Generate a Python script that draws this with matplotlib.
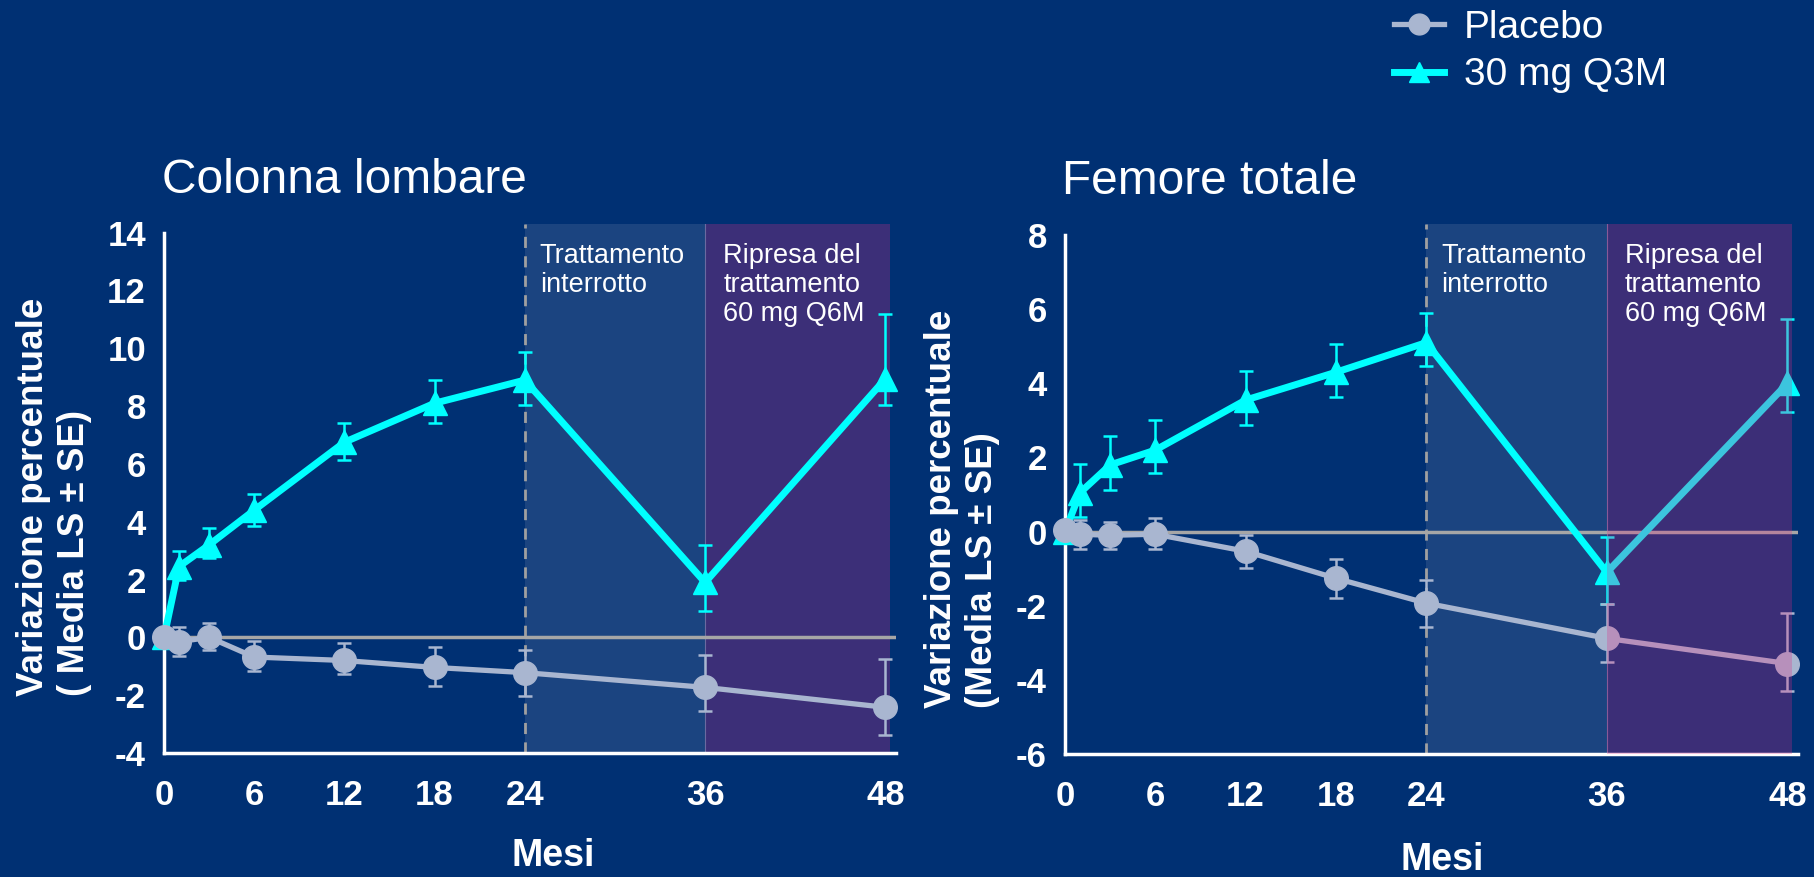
import matplotlib
matplotlib.use("Agg")
import matplotlib.pyplot as plt
from matplotlib.lines import Line2D
from matplotlib.patches import Rectangle

plt.rcParams["font.family"] = ["Liberation Sans", "DejaVu Sans"]
plt.rcParams["axes.unicode_minus"] = False

# dati
mesi = [0, 1, 3, 6, 12, 18, 24, 36, 48]
xTicks = [0, 6, 12, 18, 24, 36, 48]

# Colonna lombare
lombPlacebo = [0.0, -0.15, 0.0, -0.68, -0.8, -1.04, -1.22, -1.73, -2.42]
lombPlaceboLo = [0.0, 0.48, 0.45, 0.48, 0.48, 0.63, 0.81, 0.81, 0.95]
lombPlaceboHi = [0.0, 0.51, 0.50, 0.56, 0.60, 0.72, 0.80, 1.13, 1.67]
lombQ3M = [0.0, 2.45, 3.2, 4.4, 6.75, 8.1, 8.9, 1.9, 8.95]
lombQ3MLo = [0.0, 0.48, 0.46, 0.53, 0.61, 0.69, 0.85, 0.98, 0.90]
lombQ3MHi = [0.0, 0.53, 0.58, 0.57, 0.68, 0.80, 0.96, 1.28, 2.25]

# Femore totale
femPlacebo = [0.05, -0.07, -0.1, -0.07, -0.53, -1.26, -1.93, -2.88, -3.56]
femPlaceboLo = [0.0, 0.40, 0.38, 0.40, 0.44, 0.53, 0.64, 0.63, 0.73]
femPlaceboHi = [0.0, 0.39, 0.37, 0.43, 0.44, 0.53, 0.63, 0.92, 1.37]
femQ3M = [0.0, 1.05, 1.8, 2.2, 3.55, 4.3, 5.1, -1.1, 4.0]
femQ3MLo = [0.0, 0.65, 0.67, 0.63, 0.66, 0.66, 0.63, 0.84, 0.76]
femQ3MHi = [0.0, 0.77, 0.78, 0.81, 0.78, 0.75, 0.80, 0.95, 1.73]

BG = "#003073"
CYAN = "#00ffff"
PLAC = "#a9b6d0"
BLU = "#1b4480"
VIOLA = "#3c2f78"
W, H = 1814, 877

fig = plt.figure(figsize=(W / 100, H / 100), dpi=100, facecolor=BG)


def pannello(rect, ylim, yticks, plac, placLo, placHi, q3m, q3mLo, q3mHi, overlay):
    ax = fig.add_axes(rect)
    ax.set_facecolor(BG)
    ax.set_xlim(0, 48.7)
    ax.set_ylim(ylim[0], ylim[1] + 0.3 * (yticks[1] - yticks[0]) / 2)
    top = ax.get_ylim()[1]

    # zone
    ax.axvspan(24, 36, ymax=1, color=BLU, zorder=0, lw=0)
    if overlay:
        # in questo pannello la zona viola sta sopra le curve
        ax.add_patch(Rectangle((36, ylim[0]), 12.3, top - ylim[0], facecolor=(222 / 255, 44 / 255, 133 / 255),
                               alpha=0.27, lw=0, zorder=20, clip_on=False))
    else:
        ax.axvspan(36, 48.3, color=VIOLA, zorder=0, lw=0)
    ax.axvline(36, color="#6a6aa0", lw=0.8, zorder=0.5)
    ax.axvline(24, color="#a0a0a0", lw=2, ls=(0, (4, 3)), zorder=1)
    ax.axhline(0, color="#a6a6a6", lw=2.5, zorder=1)

    ax.errorbar(mesi, q3m, yerr=[q3mLo, q3mHi], color=CYAN, lw=5, marker="^", ms=17,
                elinewidth=1.8, capsize=5, capthick=1.8, zorder=3, clip_on=False)
    ax.errorbar(mesi, plac, yerr=[placLo, placHi], color=PLAC, lw=3.8, marker="o", ms=17,
                elinewidth=1.8, capsize=5, capthick=1.8, zorder=4, clip_on=False)

    for s in ["top", "right"]:
        ax.spines[s].set_visible(False)
    for s in ["left", "bottom"]:
        ax.spines[s].set_color("white")
        ax.spines[s].set_linewidth(2.5)
    ax.spines["left"].set_bounds(ylim[0], ylim[1])
    ax.set_yticks(yticks)
    ax.set_xticks(xTicks)
    ax.tick_params(length=0, colors="white", labelsize=25)
    ax.tick_params(axis="y", pad=13)
    ax.tick_params(axis="x", pad=19)
    for lab in ax.get_xticklabels() + ax.get_yticklabels():
        lab.set_fontweight("bold")
    return ax


axL = pannello([164 / W, 1 - 753 / H, 732 / W, 529 / H], (-4, 14), list(range(-4, 15, 2)),
               lombPlacebo, lombPlaceboLo, lombPlaceboHi, lombQ3M, lombQ3MLo, lombQ3MHi, False)
axR = pannello([1065 / W, 1 - 754 / H, 733 / W, 530 / H], (-6, 8), list(range(-6, 9, 2)),
               femPlacebo, femPlaceboLo, femPlaceboHi, femQ3M, femQ3MLo, femQ3MHi, True)

for ax in (axL, axR):
    ax.text(25.0, 0.965, "Trattamento\ninterrotto", transform=ax.get_xaxis_transform(),
            color="white", fontsize=19.5, va="top", ha="left", linespacing=1.15, zorder=30)
    ax.text(37.2, 0.965, "Ripresa del\ntrattamento\n60 mg Q6M", transform=ax.get_xaxis_transform(),
            color="white", fontsize=19.5, va="top", ha="left", linespacing=1.15, zorder=30)

# titoli
fig.text(162 / W, 1 - 193 / H, "Colonna lombare", color="white", fontsize=34.5, va="baseline")
fig.text(1062 / W, 1 - 194 / H, "Femore totale", color="white", fontsize=34.5, va="baseline")

# etichette assi
fig.text(54 / W, 1 - 696 / H, "Variazione percentuale\n( Media LS ± SE)", color="white",
         fontsize=26.5, fontweight="bold", rotation=90, ha="center", va="bottom",
         multialignment="left", linespacing=1.25)
fig.text(962 / W, 1 - 708 / H, "Variazione percentuale\n(Media LS ± SE)", color="white",
         fontsize=26.5, fontweight="bold", rotation=90, ha="center", va="bottom",
         multialignment="left", linespacing=1.25)
fig.text(553 / W, 1 - 856 / H, "Mesi", color="white", fontsize=27, fontweight="bold",
         ha="center", va="center")
fig.text(1442 / W, 1 - 860 / H, "Mesi", color="white", fontsize=27, fontweight="bold",
         ha="center", va="center")

# legenda
handles = [
    Line2D([], [], color=PLAC, lw=3.8, marker="o", ms=15),
    Line2D([], [], color=CYAN, lw=5, marker="^", ms=15),
]
leg = fig.legend(handles, ["Placebo", "30 mg Q3M"], loc="upper left",
                 bbox_to_anchor=(1378 / W, 1 + 6 / H), frameon=False, fontsize=28,
                 handlelength=1.3, handletextpad=0.5, labelspacing=0.3, borderaxespad=0)
for t in leg.get_texts():
    t.set_color("white")

fig.savefig("out.png", dpi=100, facecolor=BG)
